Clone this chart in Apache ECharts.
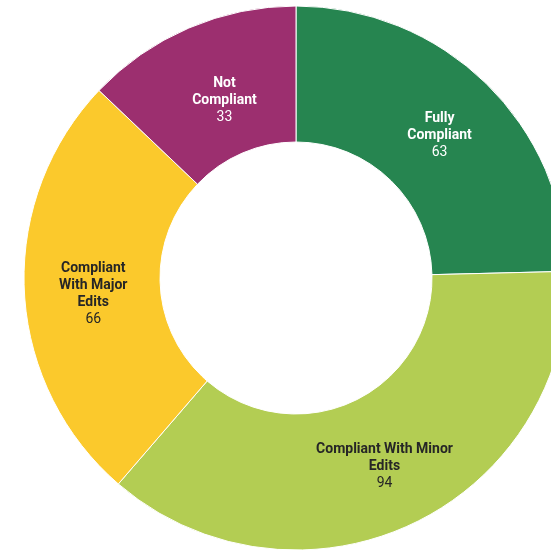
<!DOCTYPE html>
<html>
<head>
<meta charset="utf-8">
<script src="https://cdn.jsdelivr.net/npm/echarts@6/dist/echarts.min.js"></script>
<style>
  html, body { margin: 0; padding: 0; background: #fff; }
  #chart { width: 551px; height: 550px; }
</style>
</head>
<body>
<div id="chart"></div>
<script>
var names = ['Fully Compliant', 'Compliant With Minor Edits', 'Compliant With Major Edits', 'Not Compliant'];
var values = [63, 94, 66, 33];

var colors = ['#268550', '#b3cd53', '#fbc92c', '#9c2f6f'];
var textColors = ['#ffffff', '#262626', '#262626', '#ffffff'];
var wrapWidths = [90, 150, 90, 90];
// small nudges so labels sit where the original put them
var labelNudge = [[-1, 6], [0, 1], [4, 6], [10, 13]];

var ctx = document.createElement('canvas').getContext('2d');
ctx.font = 'bold 14px Roboto';

// break a label into lines no wider than maxW
function wrapText(text, maxW) {
  var words = text.split(' ');
  var lines = [];
  var cur = '';
  words.forEach(function (w) {
    var test = cur ? cur + ' ' + w : w;
    if (cur && ctx.measureText(test).width > maxW) {
      lines.push(cur);
      cur = w;
    } else {
      cur = test;
    }
  });
  if (cur) lines.push(cur);
  return lines;
}

var myChart = echarts.init(document.getElementById('chart'));

var data = names.map(function (n, i) {
  return {
    name: n,
    value: values[i],
    itemStyle: { color: colors[i] },
    label: { color: textColors[i] }
  };
});

option = {
  animation: false,
  series: [{
    type: 'pie',
    center: [296, 278],
    radius: [136, 272],
    startAngle: 90,
    clockwise: true,
    avoidLabelOverlap: false,
    itemStyle: { borderColor: '#ffffff', borderWidth: 1 },
    label: {
      show: true,
      position: 'inside',
      align: 'center',
      fontFamily: 'Roboto',
      fontSize: 14,
      lineHeight: 17,
      formatter: function (p) {
        var lines = wrapText(p.name, wrapWidths[p.dataIndex]);
        return lines.map(function (l) { return '{n|' + l + '}'; }).join('\n') + '\n{v|' + p.value + '}';
      },
      rich: {
        n: { fontWeight: 'bold', fontSize: 14, lineHeight: 17, fontFamily: 'Roboto' },
        v: { fontWeight: 'normal', fontSize: 14, lineHeight: 17, fontFamily: 'Roboto' }
      }
    },
    labelLayout: function (p) {
      var d = labelNudge[p.dataIndex];
      return { dx: d[0], dy: d[1] };
    },
    labelLine: { show: false },
    data: data
  }]
};
myChart.setOption(option);
</script>
</body>
</html>
